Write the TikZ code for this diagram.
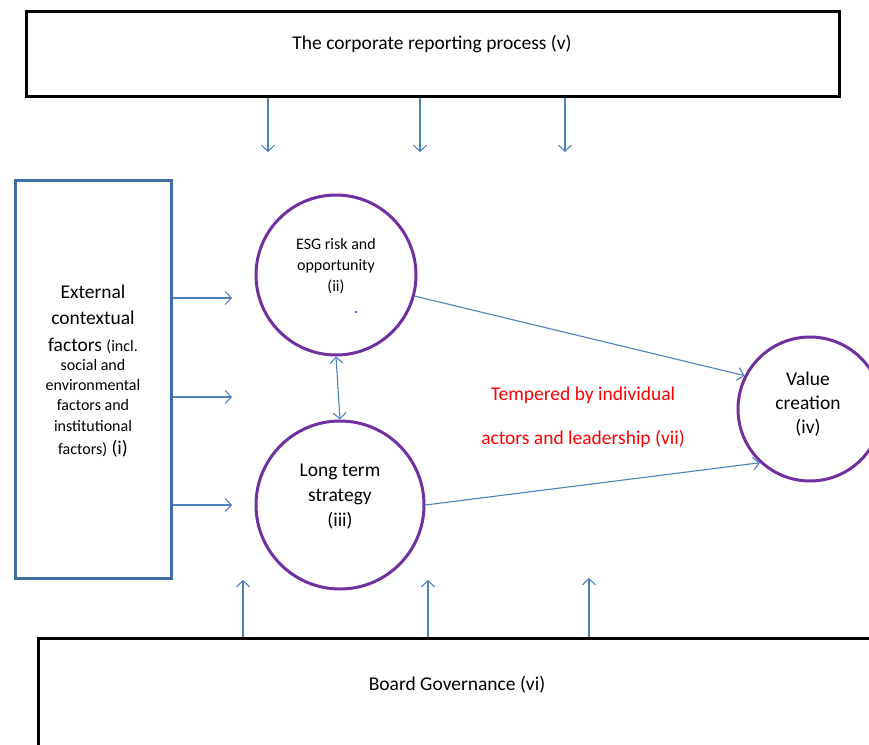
\documentclass[tikz,border=0pt]{standalone}
\usepackage{fontspec}
\setmainfont{Carlito}
\usepackage{xcolor}
\usepackage{tikz}
\usetikzlibrary{positioning,arrows.meta}
\definecolor{arrowblue}{HTML}{4F81BD}
\definecolor{boxblue}{HTML}{3E6EA3}
\definecolor{ringpurple}{HTML}{7030A0}

\begin{document}
\begin{tikzpicture}[x=1pt,y=-1pt,
    arr/.style={-{Straight Barb[length=6pt,width=13pt]},line width=1.1pt,arrowblue},
    biarr/.style={{Straight Barb[length=6pt,width=13pt]}-{Straight Barb[length=6pt,width=13pt]},line width=1.1pt,arrowblue},
    ring/.style={circle,draw=ringpurple,line width=3pt,inner sep=0pt},
    blackbox/.style={draw,line width=2.5pt,inner sep=0pt,anchor=north west},
    bigtxt/.style={align=center,font=\fontsize{19.5}{25}\selectfont},
    smalltxt/.style={align=center,font=\fontsize{16}{21}\selectfont}]
    \clip (0,0) rectangle (869,744);

    % Boxes
    \node[blackbox,minimum width=813,minimum height=85] (report) at (25,10) {};
    \node[bigtxt] (reporttxt) at (432,44) {The corporate reporting process (v)};
    \node[blackbox,minimum width=900,minimum height=200] (board) at (37,637) {};
    \node[bigtxt] (boardtxt) at (457,685) {Board Governance (vi)};
    \node[draw=boxblue,line width=3pt,minimum width=156,minimum height=398,inner sep=0pt] (ext) at (93,379) {};
    \node[bigtxt,font=\fontsize{19.5}{26.5}\selectfont] (exttxt) at (93,371) {External\\contextual\\factors {\fontsize{16}{19}\selectfont(incl.}\\[-7pt]
        {\fontsize{16}{19}\selectfont social and}\\[-7pt]{\fontsize{16}{19}\selectfont environmental}\\[-6pt]
        {\fontsize{16}{19}\selectfont factors and}\\[-6pt]{\fontsize{16}{19}\selectfont institutional}\\[-3pt]
        {\fontsize{16}{19}\selectfont factors)} (i)};

    % Circles
    \node[ring,minimum size=160] (esg) at (336,275) {};
    \node[smalltxt] (esgtxt) at (336,266) {ESG risk and\\opportunity\\(ii)};
    \fill[blue] (356,312) circle (1pt);
    \node[ring,minimum size=168] (lts) at (340,505) {};
    \node[bigtxt] (ltstxt) at (340,497) {Long term\\strategy\\(iii)};
    \node[ring,minimum size=144] (value) at (810,409) {};
    \node[bigtxt,font=\fontsize{19.5}{24}\selectfont] (valuetxt) at (808,404) {Value\\creation\\(iv)};

    \node[bigtxt,text=red] (note) at (583,417) {Tempered by individual\\[19pt]actors and leadership (vii)};

    % Free ends
    \coordinate (t1) at (268,152);
    \coordinate (t2) at (420,152);
    \coordinate (t3) at (565,152);
    \coordinate (b1) at (243,580);
    \coordinate (b2) at (428,580);
    \coordinate (b3) at (589,578);
    \coordinate (e1) at (232,298);
    \coordinate (e2) at (232,397);
    \coordinate (e3) at (232,505);

    % Arrows
    \foreach \p in {t1,t2,t3} \draw[arr] (report.south -| \p) -- (\p);
    \foreach \p in {b1,b2,b3} \draw[arr] (board.north -| \p) -- (\p);
    \foreach \p in {e1,e2,e3} \draw[arr] (ext.east |- \p) -- (\p);
    \draw[biarr] (esg.south) -- (lts.north);
    \draw[arr] (esg.-15) -- (value.153);
    \draw[arr] (lts.east) -- (value.-133);
\end{tikzpicture}
\end{document}
